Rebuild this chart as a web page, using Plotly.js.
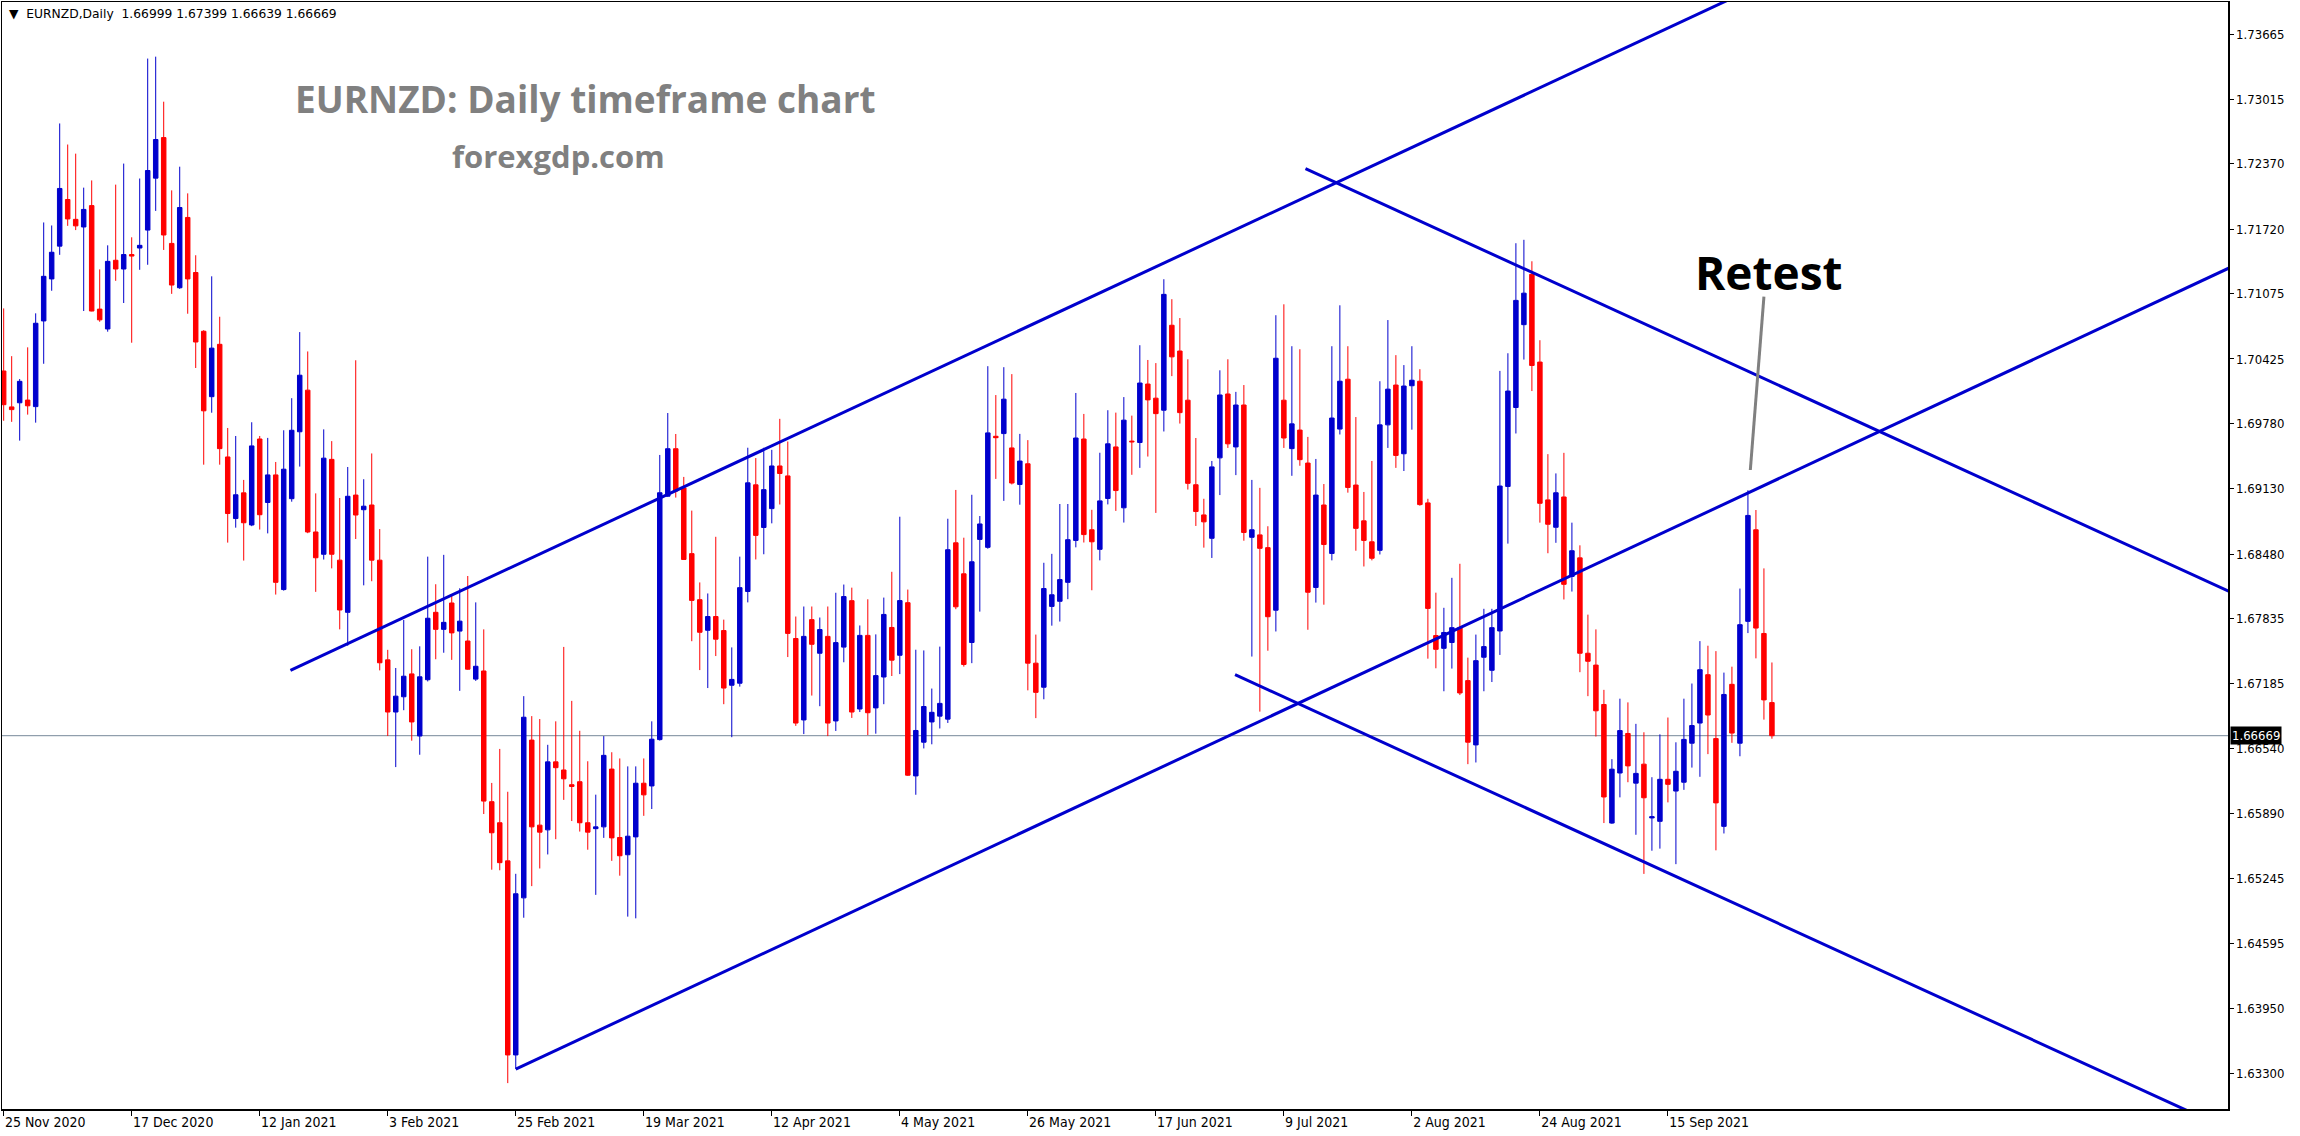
<!DOCTYPE html>
<html>
<head>
<meta charset="utf-8">
<script src="https://cdn.plot.ly/plotly-3.0.1.min.js"></script>
<style>
  html, body { margin: 0; padding: 0; background: #ffffff; }
  #chart { width: 2300px; height: 1136px; }
</style>
</head>
<body>
<div id="chart"></div>
<script>
// ---------------- DATA (EURNZD daily) ----------------
const symbol = "EURNZD";
const timeframe = "Daily";

const openPrices = [
1.70305,1.69947,1.69988,1.70015,1.69950,1.70804,1.71223,1.71550,1.72015,1.71817,
1.71741,1.71954,1.70922,1.70724,1.71409,1.71322,1.71466,1.71531,1.71710,1.72228,
1.72632,1.71577,1.71135,1.71836,1.71287,1.70701,1.70049,1.70571,1.69448,1.68834,
1.69090,1.68770,1.69627,1.68994,1.69269,1.68126,1.69032,1.69699,1.70114,1.68700,
1.68478,1.69424,1.68419,1.67899,1.69068,1.68922,1.68969,1.68419,1.67425,1.66905,
1.67057,1.67285,1.66666,1.67227,1.67899,1.67729,1.67992,1.67712,1.67613,1.67233,
1.67314,1.66011,1.65801,1.65421,1.63486,1.65052,1.66625,1.65777,1.65730,1.66408,
1.66327,1.66180,1.66210,1.65801,1.65742,1.65760,1.66336,1.65654,1.65482,1.65660,
1.66195,1.66168,1.66630,1.69057,1.69530,1.69139,1.68484,1.68025,1.67720,1.67857,
1.67717,1.67172,1.67192,1.68107,1.69170,1.68745,1.68933,1.69358,1.69259,1.67638,
1.66826,1.67826,1.67491,1.67659,1.66816,1.67552,1.68015,1.66935,1.67669,1.66946,
1.67254,1.67748,1.67471,1.67995,1.66268,1.66604,1.66806,1.66864,1.66834,1.68592,
1.68283,1.67598,1.68626,1.68547,1.69654,1.69681,1.69538,1.69174,1.69380,1.67392,
1.67152,1.67958,1.68009,1.68198,1.68616,1.69627,1.68722,1.68527,1.69034,1.69548,
1.68941,1.69606,1.69592,1.70175,1.70034,1.69914,1.70761,1.70504,1.70014,1.69171,
1.68870,1.68637,1.69439,1.70076,1.69548,1.69966,1.68647,1.68671,1.68544,1.67920,
1.70014,1.69531,1.69716,1.69387,1.68147,1.68969,1.68486,1.69726,1.70223,1.69168,
1.68811,1.68602,1.68517,1.69768,1.70165,1.69480,1.70158,1.70203,1.68990,1.67667,
1.67540,1.67598,1.67746,1.67218,1.66577,1.67451,1.67321,1.67713,1.69154,1.69941,
1.70767,1.71269,1.70394,1.69020,1.68747,1.69049,1.68257,1.68442,1.67491,1.67373,
1.66980,1.65798,1.66297,1.66691,1.66196,1.66385,1.65849,1.65815,1.66234,1.66117,
1.66205,1.66594,1.66795,1.67277,1.66640,1.65765,1.67181,1.66594,1.67809,1.68722,
1.67688,1.66999];

const highPrices = [
1.70929,1.70453,1.70225,1.70541,1.70880,1.71786,1.71756,1.72773,1.72563,1.72472,
1.72133,1.72205,1.71318,1.71558,1.72163,1.72373,1.71638,1.72224,1.73420,1.73439,
1.72990,1.72106,1.72342,1.72076,1.71459,1.70712,1.71249,1.70846,1.69737,1.69657,
1.69219,1.69794,1.69657,1.69638,1.69398,1.69714,1.70034,1.70693,1.70500,1.69085,
1.69723,1.69606,1.69039,1.69348,1.70412,1.69226,1.69483,1.68729,1.67525,1.67344,
1.67823,1.67531,1.67560,1.68454,1.68179,1.68472,1.68074,1.68139,1.68261,1.67998,
1.67729,1.66198,1.66537,1.66110,1.65292,1.67063,1.66864,1.66835,1.66578,1.66812,
1.67554,1.67016,1.66718,1.66414,1.66081,1.66665,1.66504,1.66442,1.66363,1.66363,
1.66442,1.66812,1.69468,1.69886,1.69677,1.69249,1.68913,1.68197,1.68087,1.68652,
1.67826,1.67549,1.68454,1.69540,1.69437,1.69540,1.69519,1.69828,1.69602,1.67857,
1.67957,1.67957,1.67847,1.67957,1.68094,1.68176,1.68145,1.67768,1.68029,1.67679,
1.68046,1.68303,1.68852,1.68126,1.67526,1.67519,1.67139,1.67557,1.68832,1.69119,
1.68643,1.69071,1.68859,1.70353,1.70065,1.70343,1.70274,1.69678,1.69616,1.67677,
1.68393,1.68482,1.68979,1.68979,1.70086,1.69877,1.68921,1.69490,1.69914,1.69890,
1.70045,1.69860,1.70562,1.70415,1.70384,1.71220,1.71021,1.70833,1.70422,1.69637,
1.69031,1.69408,1.70312,1.70422,1.70097,1.70165,1.69219,1.69140,1.68757,1.70861,
1.70970,1.70552,1.70522,1.69648,1.69428,1.69178,1.70552,1.70960,1.70552,1.69846,
1.69099,1.69408,1.70203,1.70813,1.70463,1.70364,1.70552,1.70323,1.69031,1.68095,
1.67944,1.68243,1.68383,1.67447,1.67677,1.67934,1.67934,1.70306,1.70482,1.71579,
1.71613,1.71399,1.70612,1.69476,1.69284,1.69489,1.68793,1.68567,1.67876,1.67729,
1.67126,1.66435,1.67038,1.67001,1.66787,1.66703,1.66255,1.66682,1.66850,1.66603,
1.67038,1.67189,1.67612,1.67566,1.67512,1.67298,1.67357,1.68136,1.69116,1.68919,
1.68337,1.67399];

const lowPrices = [
1.69809,1.69798,1.69611,1.69870,1.69790,1.70377,1.71105,1.71463,1.71752,1.71710,
1.70903,1.70900,1.70796,1.70697,1.71204,1.70983,1.70587,1.71314,1.71364,1.71901,
1.71512,1.71074,1.71124,1.70876,1.70335,1.69371,1.69889,1.69371,1.68594,1.68743,
1.68415,1.68758,1.68724,1.68686,1.68076,1.68115,1.69002,1.69352,1.68688,1.68103,
1.68425,1.68337,1.67729,1.67566,1.68630,1.68168,1.68209,1.67320,1.66666,1.66356,
1.66923,1.66619,1.66479,1.67210,1.67431,1.67496,1.67425,1.67116,1.67326,1.67215,
1.65888,1.65333,1.65327,1.63205,1.63346,1.64854,1.65169,1.65345,1.65485,1.65637,
1.66029,1.65818,1.65713,1.65532,1.65082,1.65650,1.65421,1.65273,1.64865,1.64848,
1.65870,1.65938,1.66620,1.69050,1.69043,1.68423,1.67611,1.67323,1.67144,1.67463,
1.66983,1.66654,1.67158,1.67998,1.68426,1.68478,1.68786,1.68974,1.67453,1.66767,
1.66685,1.67069,1.66963,1.66665,1.66716,1.67401,1.66846,1.66905,1.66675,1.66689,
1.66983,1.67264,1.67283,1.66268,1.66080,1.66542,1.66583,1.66741,1.66796,1.67930,
1.67358,1.67392,1.67906,1.68533,1.69229,1.69010,1.69174,1.68972,1.67121,1.66844,
1.67032,1.67766,1.67807,1.68030,1.68547,1.68595,1.68119,1.68417,1.68975,1.68910,
1.68794,1.69270,1.69339,1.69452,1.68890,1.69702,1.70254,1.69781,1.69123,1.68760,
1.68544,1.68441,1.69068,1.69538,1.69267,1.68613,1.67458,1.66909,1.67516,1.67708,
1.69538,1.69260,1.69360,1.67725,1.67996,1.67975,1.68417,1.69672,1.69092,1.68513,
1.68356,1.68417,1.68476,1.69538,1.69339,1.69308,1.69720,1.68962,1.67437,1.67341,
1.67112,1.67338,1.67074,1.66385,1.66402,1.67112,1.67204,1.67474,1.68584,1.69682,
1.70419,1.70105,1.68793,1.68488,1.68592,1.68027,1.68106,1.67302,1.67063,1.66661,
1.65798,1.65790,1.66054,1.66205,1.65681,1.65291,1.65522,1.65543,1.66004,1.65388,
1.66129,1.66351,1.66259,1.66485,1.65526,1.65694,1.66598,1.66464,1.67692,1.67440,
1.66829,1.66639];

const closePrices = [
1.69969,1.69920,1.70202,1.69958,1.70781,1.71249,1.71489,1.72125,1.71821,1.71752,
1.71916,1.70903,1.70815,1.71398,1.71322,1.71466,1.71451,1.71558,1.72304,1.72613,
1.71661,1.71162,1.71935,1.71223,1.70594,1.69908,1.70533,1.69531,1.68884,1.69071,
1.68792,1.69558,1.68872,1.69269,1.68198,1.69326,1.69714,1.70263,1.68700,1.68443,
1.69436,1.68478,1.67922,1.69056,1.68869,1.68957,1.68419,1.67396,1.66905,1.67063,
1.67262,1.66806,1.67256,1.67840,1.67729,1.67799,1.67694,1.67811,1.67332,1.67361,
1.66017,1.65701,1.65403,1.63486,1.65093,1.66853,1.65760,1.65707,1.66408,1.66350,
1.66239,1.66163,1.65801,1.65707,1.65760,1.66473,1.65650,1.65472,1.65667,1.66195,
1.66079,1.66634,1.69091,1.69530,1.69108,1.68426,1.68018,1.67700,1.67857,1.67631,
1.67144,1.67230,1.68145,1.69190,1.68666,1.69122,1.69358,1.69283,1.67689,1.66795,
1.67659,1.67580,1.67727,1.66795,1.67597,1.68056,1.66905,1.67669,1.66898,1.67268,
1.67878,1.67422,1.68016,1.66275,1.66721,1.66960,1.66902,1.66991,1.68523,1.67954,
1.67379,1.68403,1.68780,1.69688,1.69640,1.70024,1.69188,1.69407,1.67392,1.67101,
1.68136,1.68074,1.68225,1.68623,1.69637,1.68674,1.68602,1.69010,1.69579,1.69113,
1.69815,1.69599,1.70185,1.70017,1.69880,1.71069,1.70446,1.69890,1.69185,1.68904,
1.68801,1.69349,1.70066,1.69579,1.69966,1.68695,1.68722,1.68537,1.67855,1.70432,
1.69637,1.69778,1.69421,1.68099,1.69068,1.68575,1.69836,1.70203,1.69144,1.68736,
1.68616,1.68438,1.69768,1.70124,1.69463,1.70155,1.70213,1.68973,1.67938,1.67530,
1.67698,1.67746,1.67095,1.66604,1.67417,1.67557,1.67746,1.69158,1.70105,1.71009,
1.71081,1.70360,1.68986,1.68777,1.69091,1.68178,1.68513,1.67491,1.67411,1.66917,
1.66058,1.66335,1.66720,1.66368,1.66293,1.66050,1.65861,1.66234,1.66184,1.66314,
1.66632,1.66770,1.67327,1.66875,1.65999,1.67080,1.66695,1.67776,1.68865,1.67742,
1.67026,1.66669];

// date labels (every 16th bar) and the bar they sit under
const dateLabels = ["25 Nov 2020","17 Dec 2020","12 Jan 2021","3 Feb 2021","25 Feb 2021",
  "19 Mar 2021","12 Apr 2021","4 May 2021","26 May 2021","17 Jun 2021","9 Jul 2021",
  "2 Aug 2021","24 Aug 2021","15 Sep 2021"];
const dateLabelBars = [0,16,32,48,64,80,96,112,128,144,160,176,192,208];

// price scale ticks
const priceTicks = [1.73665,1.73015,1.72370,1.71720,1.71075,1.70425,1.69780,1.69130,
  1.68480,1.67835,1.67185,1.66540,1.65890,1.65245,1.64595,1.63950,1.63300];

// trend lines: two anchor points each (bar index, price), drawn as rays to the right
const trendUpperChannelBars = [35.84, 108.3];
const trendUpperChannelPrices = [1.67321, 1.70016];
const trendLowerChannelBars = [64, 215.6];
const trendLowerChannelPrices = [1.63344, 1.68999];
const trendDescUpperBars = [162.7, 229.5];
const trendDescUpperPrices = [1.72322, 1.69883];
const trendDescLowerBars = [153.9, 209.95];
const trendDescLowerPrices = [1.67277, 1.65230];

// "Retest" pointer (bar index, price)
const retestPointerBars = [220.0, 218.3];
const retestPointerPrices = [1.71046, 1.69318];

// ---------------- CHART ----------------
const n = closePrices.length;
const bars = openPrices.map((_, i) => i);
const last = n - 1;
const f5 = v => v.toFixed(5);

const BLUE = '#0000CD';
const RED = '#FF0000';
const XMIN = -0.21, XMAX = 278.0;
const YMIN = 1.62947, YMAX = 1.73984;

function ray(bx, py) {
  const slope = (py[1] - py[0]) / (bx[1] - bx[0]);
  const xEnd = XMAX + 20;
  return {x0: bx[0], y0: py[0], x1: xEnd, y1: py[0] + slope * (xEnd - bx[0])};
}

const lineStyle = {color: BLUE, width: 3};
const shapes = [
  {type: 'line', xref: 'x', yref: 'y', x0: XMIN, x1: XMAX, y0: closePrices[last], y1: closePrices[last],
   line: {color: '#778899', width: 1}, layer: 'below'},
  Object.assign({type: 'line', xref: 'x', yref: 'y', line: lineStyle}, ray(trendUpperChannelBars, trendUpperChannelPrices)),
  Object.assign({type: 'line', xref: 'x', yref: 'y', line: lineStyle}, ray(trendLowerChannelBars, trendLowerChannelPrices)),
  Object.assign({type: 'line', xref: 'x', yref: 'y', line: lineStyle}, ray(trendDescUpperBars, trendDescUpperPrices)),
  Object.assign({type: 'line', xref: 'x', yref: 'y', line: lineStyle}, ray(trendDescLowerBars, trendDescLowerPrices)),
  {type: 'line', xref: 'x', yref: 'y', x0: retestPointerBars[0], y0: retestPointerPrices[0],
   x1: retestPointerBars[1], y1: retestPointerPrices[1], line: {color: '#808080', width: 3}}
];

const trace = {
  type: 'candlestick',
  x: bars,
  open: openPrices, high: highPrices, low: lowPrices, close: closePrices,
  increasing: {line: {color: BLUE, width: 1}, fillcolor: BLUE},
  decreasing: {line: {color: RED, width: 1}, fillcolor: RED},
  whiskerwidth: 0,
  hoverinfo: 'skip',
  showlegend: false
};

const PW = 2226, PH = 1107, ML = 2, MT = 2;
const px = x => (x - ML) / PW;
const py = y => 1 - (y - MT) / PH;

const annotations = [
  {xref: 'paper', yref: 'paper', x: px(7), y: py(14), xanchor: 'left', yanchor: 'middle',
   text: '\u25BC  ' + symbol + ',' + timeframe + '  ' + [openPrices[last], highPrices[last], lowPrices[last], closePrices[last]].map(f5).join(' '),
   showarrow: false, font: {family: 'DejaVu Sans', size: 12.3, color: '#000000'}},
  {xref: 'paper', yref: 'paper', x: px(293), y: py(99), xanchor: 'left', yanchor: 'middle',
   text: '<b>EURNZD: Daily timeframe chart</b>', showarrow: false,
   font: {family: 'Open Sans', size: 37, color: '#808080'}},
  {xref: 'paper', yref: 'paper', x: px(450), y: py(156), xanchor: 'left', yanchor: 'middle',
   text: '<b>forexgdp.com</b>', showarrow: false,
   font: {family: 'Open Sans', size: 31, color: '#808080'}},
  {xref: 'paper', yref: 'paper', x: px(1693), y: py(272), xanchor: 'left', yanchor: 'middle',
   text: '<b>Retest</b>', showarrow: false,
   font: {family: 'Open Sans', size: 46, color: '#000000'}},
  {xref: 'paper', yref: 'y', x: 1, y: closePrices[last], xanchor: 'left', yanchor: 'middle', xshift: 2,
   text: f5(closePrices[last]), showarrow: false, bgcolor: '#000000', borderpad: 1,
   font: {family: 'DejaVu Sans Condensed', size: 13, color: '#ffffff'}}
];

const layout = {
  width: 2300, height: 1136,
  margin: {l: ML, r: 72, t: MT, b: 27, pad: 0},
  paper_bgcolor: '#ffffff', plot_bgcolor: '#ffffff',
  showlegend: false,
  boxgap: 0.2, boxgroupgap: 0.3,
  xaxis: {
    range: [XMIN, XMAX], rangeslider: {visible: false},
    showgrid: false, zeroline: false,
    showline: true, mirror: true, linecolor: '#000000', linewidth: 1.5,
    ticks: 'outside', ticklen: 5, tickcolor: '#000000', tickwidth: 1,
    tickmode: 'array', tickvals: dateLabelBars, ticktext: dateLabels,
    ticklabelposition: 'outside right',
    tickfont: {family: 'DejaVu Sans Condensed', size: 14, color: '#000000'}
  },
  yaxis: {
    range: [YMIN, YMAX], side: 'right',
    showgrid: false, zeroline: false,
    showline: true, mirror: true, linecolor: '#000000', linewidth: 1.5,
    ticks: 'outside', ticklen: 4, tickcolor: '#000000', tickwidth: 1,
    tickmode: 'array', tickvals: priceTicks, ticktext: priceTicks.map(f5),
    tickfont: {family: 'DejaVu Sans Condensed', size: 13, color: '#000000'}
  },
  shapes: shapes,
  annotations: annotations
};

Plotly.newPlot('chart', [trace], layout, {staticPlot: true, displayModeBar: false});
</script>
</body>
</html>
